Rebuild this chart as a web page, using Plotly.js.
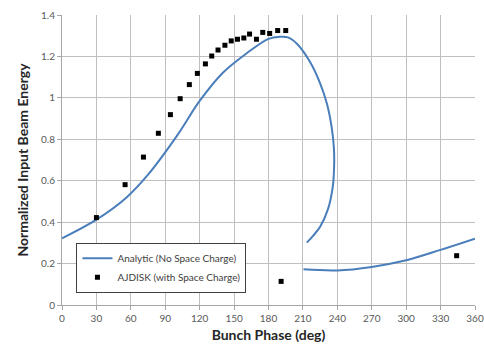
<!DOCTYPE html>
<html><head><meta charset="utf-8">
<script src="https://cdn.plot.ly/plotly-3.0.1.min.js"></script>
<style>html,body{margin:0;padding:0;background:#fff}#c{width:484px;height:351px}</style>
</head><body><div id="c"></div>
<script>
// Analytic curve (null separates the two branches)
const analyticX = [0, 30, 56, 75, 100, 120, 140, 161, 180, 190, 197, 205, 216, 225, 231, 235, 237, 237.2, 236, 232, 225, 219, 213.4, null,
  210.5, 240, 270, 300, 330, 360];
const analyticY = [0.322, 0.412, 0.518, 0.629, 0.815, 0.985, 1.12, 1.215, 1.285, 1.295, 1.292, 1.26, 1.175, 1.07, 0.97, 0.86, 0.76, 0.67, 0.57, 0.465, 0.378, 0.335, 0.301, null,
  0.172, 0.167, 0.184, 0.216, 0.266, 0.32];
// AJDISK points
const ajdiskX = [30, 55, 71, 84, 94.5, 103, 111, 118, 125, 130.5, 136, 142, 147.5, 153, 158.5, 163.5, 169.5, 175, 181, 188, 195, 191, 344];
const ajdiskY = [0.422, 0.581, 0.714, 0.829, 0.919, 0.996, 1.064, 1.118, 1.164, 1.202, 1.231, 1.254, 1.275, 1.283, 1.289, 1.308, 1.283, 1.316, 1.311, 1.325, 1.325, 0.114, 0.238];
const xTicks = [0, 30, 60, 90, 120, 150, 180, 210, 240, 270, 300, 330, 360];
const yTicks = [0, 0.2, 0.4, 0.6, 0.8, 1, 1.2, 1.4];
const yTickText = ['0', '0.2', '0.4', '0.6', '0.8', '1', '1.2', '1.4'];

const traces = [
  {x: analyticX, y: analyticY, mode: 'lines', name: 'Analytic (No Space Charge)',
   line: {color: '#4a7ebb', width: 2, shape: 'spline', smoothing: 1}, connectgaps: false},
  {x: ajdiskX, y: ajdiskY, mode: 'markers', name: 'AJDISK (with Space Charge)',
   marker: {symbol: 'square', color: '#000', size: 5}}
];
const font = "Lato, 'Open Sans', sans-serif";
const layout = {
  width: 484, height: 351,
  margin: {l: 62, r: 9, t: 15, b: 46},
  paper_bgcolor: '#fff', plot_bgcolor: '#fff',
  showlegend: true,
  legend: {x: 0.035, y: 0.215, xanchor: 'left', yanchor: 'top', bgcolor: '#fff',
    bordercolor: '#404040', borderwidth: 1, font: {family: font, size: 10, color: '#404040'},
    itemwidth: 30, tracegroupgap: 2},
  xaxis: {range: [0, 360], tickvals: xTicks, ticktext: xTicks.map(String),
    showgrid: true, gridcolor: '#bfbfbf', gridwidth: 1, zeroline: false,
    showline: true, linecolor: '#a6a6a6', ticks: 'outside', ticklen: 4, tickcolor: '#a6a6a6',
    tickfont: {family: font, size: 10, color: '#595959'},
    title: {text: '<b>Bunch Phase (deg)</b>', font: {family: font, size: 14, color: '#262626'}, standoff: 7}},
  yaxis: {range: [0, 1.4], tickvals: yTicks, ticktext: yTickText,
    showgrid: true, gridcolor: '#bfbfbf', gridwidth: 1, zeroline: false,
    showline: true, linecolor: '#a6a6a6', ticks: 'outside', ticklen: 4, tickcolor: '#a6a6a6',
    tickfont: {family: font, size: 10, color: '#595959'},
    title: {text: '<b>Normalized Input Beam Energy</b>', font: {family: font, size: 14, color: '#262626'}, standoff: 9}},
};
Plotly.newPlot('c', traces, layout, {displayModeBar: false, staticPlot: true});
</script></body></html>
